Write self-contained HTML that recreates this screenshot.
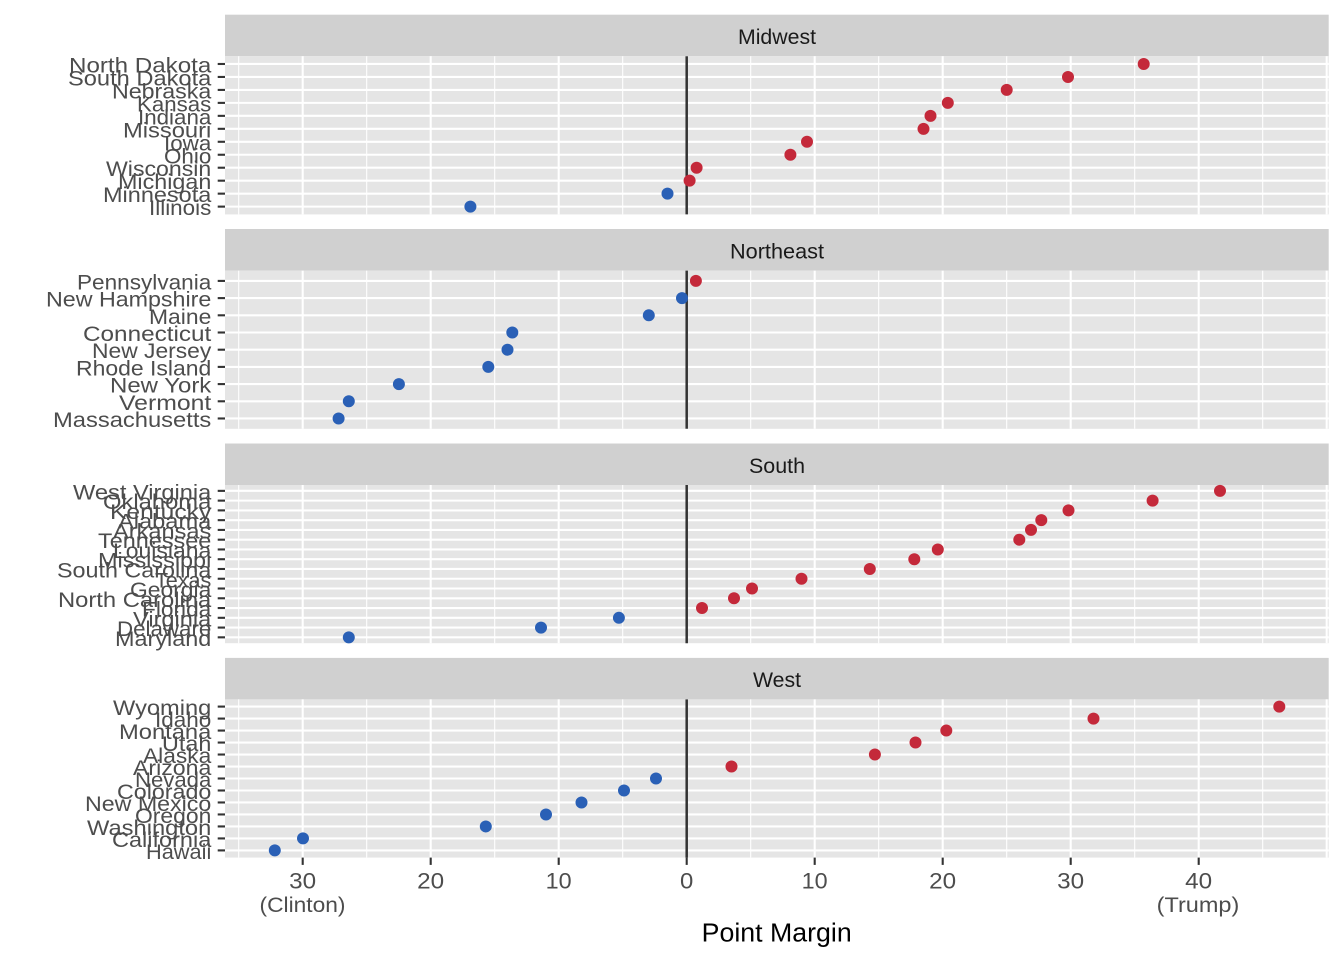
<!DOCTYPE html>
<html>
<head>
<meta charset="utf-8">
<style>
html,body{margin:0;padding:0;background:#fff;}
svg{display:block;}
text{font-family:"Liberation Sans","Noto Sans CJK JP",sans-serif;}
.yl{font-size:21px;fill:#4d4d4d;text-anchor:end;}
.xl{font-size:22px;fill:#4d4d4d;text-anchor:middle;}
.xl2{font-size:21px;fill:#4d4d4d;text-anchor:middle;}
.st{font-size:21px;fill:#1a1a1a;text-anchor:middle;}
.hg{stroke:#fff;stroke-width:2.1;}
.mj{stroke:#fff;stroke-width:2.1;}
.mn{stroke:#fff;stroke-width:1.07;}
.tk{stroke:#333;stroke-width:2.1;}
.r{fill:#c4293a;}
.b{fill:#2a60b6;}
</style>
</head>
<body>
<svg width="1344" height="960" viewBox="0 0 1344 960" xmlns="http://www.w3.org/2000/svg">
<rect x="0" y="0" width="1344" height="960" fill="#fff"/>

<!-- Reusable vertical grid definition per panel -->
<defs>
<g id="vgrid">
  <line class="mn" x1="238.7" x2="238.7" y1="0" y2="158.2"/>
  <line class="mn" x1="366.7" x2="366.7" y1="0" y2="158.2"/>
  <line class="mn" x1="494.7" x2="494.7" y1="0" y2="158.2"/>
  <line class="mn" x1="622.7" x2="622.7" y1="0" y2="158.2"/>
  <line class="mn" x1="750.7" x2="750.7" y1="0" y2="158.2"/>
  <line class="mn" x1="878.7" x2="878.7" y1="0" y2="158.2"/>
  <line class="mn" x1="1006.7" x2="1006.7" y1="0" y2="158.2"/>
  <line class="mn" x1="1134.7" x2="1134.7" y1="0" y2="158.2"/>
  <line class="mn" x1="1262.7" x2="1262.7" y1="0" y2="158.2"/>
  <line class="mj" x1="302.7" x2="302.7" y1="0" y2="158.2"/>
  <line class="mj" x1="430.7" x2="430.7" y1="0" y2="158.2"/>
  <line class="mj" x1="558.7" x2="558.7" y1="0" y2="158.2"/>
  <line class="mj" x1="686.7" x2="686.7" y1="0" y2="158.2"/>
  <line class="mj" x1="814.7" x2="814.7" y1="0" y2="158.2"/>
  <line class="mj" x1="942.7" x2="942.7" y1="0" y2="158.2"/>
  <line class="mj" x1="1070.7" x2="1070.7" y1="0" y2="158.2"/>
  <line class="mj" x1="1198.7" x2="1198.7" y1="0" y2="158.2"/>
  <line class="mj" x1="1326.7" x2="1326.7" y1="0" y2="158.2"/>
</g>
</defs>

<!-- ===== Panel 1: Midwest ===== -->
<rect x="225" y="14.7" width="1103.7" height="41.5" fill="#d0d0d0"/>
<text class="st" x="777" y="44" textLength="78" lengthAdjust="spacingAndGlyphs">Midwest</text>
<rect x="225" y="56.2" width="1103.7" height="158.2" fill="#e5e5e5"/>
<g>
<line class="hg" x1="225" x2="1328.7" y1="63.98" y2="63.98"/>
<line class="hg" x1="225" x2="1328.7" y1="76.95" y2="76.95"/>
<line class="hg" x1="225" x2="1328.7" y1="89.92" y2="89.92"/>
<line class="hg" x1="225" x2="1328.7" y1="102.88" y2="102.88"/>
<line class="hg" x1="225" x2="1328.7" y1="115.85" y2="115.85"/>
<line class="hg" x1="225" x2="1328.7" y1="128.82" y2="128.82"/>
<line class="hg" x1="225" x2="1328.7" y1="141.78" y2="141.78"/>
<line class="hg" x1="225" x2="1328.7" y1="154.75" y2="154.75"/>
<line class="hg" x1="225" x2="1328.7" y1="167.72" y2="167.72"/>
<line class="hg" x1="225" x2="1328.7" y1="180.68" y2="180.68"/>
<line class="hg" x1="225" x2="1328.7" y1="193.65" y2="193.65"/>
<line class="hg" x1="225" x2="1328.7" y1="206.62" y2="206.62"/>
</g>
<use href="#vgrid" transform="translate(0,56.2)"/>
<line x1="686.7" x2="686.7" y1="56.2" y2="214.4" stroke="#333" stroke-width="2.5"/>
<circle class="r" cx="1143.7" cy="63.98" r="6"/>
<circle class="r" cx="1068" cy="76.95" r="6"/>
<circle class="r" cx="1006.7" cy="89.92" r="6"/>
<circle class="r" cx="947.8" cy="102.88" r="6"/>
<circle class="r" cx="930.5" cy="115.85" r="6"/>
<circle class="r" cx="923.5" cy="128.82" r="6"/>
<circle class="r" cx="807" cy="141.78" r="6"/>
<circle class="r" cx="790.4" cy="154.75" r="6"/>
<circle class="r" cx="696.6" cy="167.72" r="6"/>
<circle class="r" cx="689.6" cy="180.68" r="6"/>
<circle class="b" cx="667.5" cy="193.65" r="6"/>
<circle class="b" cx="470.4" cy="206.62" r="6"/>
<g>
<line class="tk" x1="217.7" x2="225" y1="63.98" y2="63.98"/>
<line class="tk" x1="217.7" x2="225" y1="76.95" y2="76.95"/>
<line class="tk" x1="217.7" x2="225" y1="89.92" y2="89.92"/>
<line class="tk" x1="217.7" x2="225" y1="102.88" y2="102.88"/>
<line class="tk" x1="217.7" x2="225" y1="115.85" y2="115.85"/>
<line class="tk" x1="217.7" x2="225" y1="128.82" y2="128.82"/>
<line class="tk" x1="217.7" x2="225" y1="141.78" y2="141.78"/>
<line class="tk" x1="217.7" x2="225" y1="154.75" y2="154.75"/>
<line class="tk" x1="217.7" x2="225" y1="167.72" y2="167.72"/>
<line class="tk" x1="217.7" x2="225" y1="180.68" y2="180.68"/>
<line class="tk" x1="217.7" x2="225" y1="193.65" y2="193.65"/>
<line class="tk" x1="217.7" x2="225" y1="206.62" y2="206.62"/>
</g>
<text class="yl" x="211.3" y="72.5" textLength="142.3" lengthAdjust="spacingAndGlyphs">North Dakota</text>
<text class="yl" x="211.3" y="85.45" textLength="143.3" lengthAdjust="spacingAndGlyphs">South Dakota</text>
<text class="yl" x="211.3" y="98.4" textLength="99.3" lengthAdjust="spacingAndGlyphs">Nebraska</text>
<text class="yl" x="211.3" y="111.4" textLength="74.3" lengthAdjust="spacingAndGlyphs">Kansas</text>
<text class="yl" x="211.3" y="124.35" textLength="73.3" lengthAdjust="spacingAndGlyphs">Indiana</text>
<text class="yl" x="211.3" y="137.3" textLength="88.3" lengthAdjust="spacingAndGlyphs">Missouri</text>
<text class="yl" x="211.3" y="150.3" textLength="47.3" lengthAdjust="spacingAndGlyphs">Iowa</text>
<text class="yl" x="211.3" y="163.25" textLength="47.3" lengthAdjust="spacingAndGlyphs">Ohio</text>
<text class="yl" x="211.3" y="176.2" textLength="105.3" lengthAdjust="spacingAndGlyphs">Wisconsin</text>
<text class="yl" x="211.3" y="189.2" textLength="93.3" lengthAdjust="spacingAndGlyphs">Michigan</text>
<text class="yl" x="211.3" y="202.15" textLength="108.3" lengthAdjust="spacingAndGlyphs">Minnesota</text>
<text class="yl" x="211.3" y="215.1" textLength="62.3" lengthAdjust="spacingAndGlyphs">Illinois</text>

<!-- ===== Panel 2: Northeast ===== -->
<rect x="225" y="229" width="1103.7" height="41.6" fill="#d0d0d0"/>
<text class="st" x="777" y="258.3" textLength="94" lengthAdjust="spacingAndGlyphs">Northeast</text>
<rect x="225" y="270.6" width="1103.7" height="158.2" fill="#e5e5e5"/>
<g>
<line class="hg" x1="225" x2="1328.7" y1="280.92" y2="280.92"/>
<line class="hg" x1="225" x2="1328.7" y1="298.11" y2="298.11"/>
<line class="hg" x1="225" x2="1328.7" y1="315.31" y2="315.31"/>
<line class="hg" x1="225" x2="1328.7" y1="332.5" y2="332.5"/>
<line class="hg" x1="225" x2="1328.7" y1="349.7" y2="349.7"/>
<line class="hg" x1="225" x2="1328.7" y1="366.9" y2="366.9"/>
<line class="hg" x1="225" x2="1328.7" y1="384.09" y2="384.09"/>
<line class="hg" x1="225" x2="1328.7" y1="401.29" y2="401.29"/>
<line class="hg" x1="225" x2="1328.7" y1="418.48" y2="418.48"/>
</g>
<use href="#vgrid" transform="translate(0,270.6)"/>
<line x1="686.7" x2="686.7" y1="270.6" y2="428.8" stroke="#333" stroke-width="2.5"/>
<circle class="r" cx="695.9" cy="280.92" r="6"/>
<circle class="b" cx="682" cy="298.11" r="6"/>
<circle class="b" cx="648.8" cy="315.31" r="6"/>
<circle class="b" cx="512.3" cy="332.5" r="6"/>
<circle class="b" cx="507.5" cy="349.7" r="6"/>
<circle class="b" cx="488.3" cy="366.9" r="6"/>
<circle class="b" cx="398.9" cy="384.09" r="6"/>
<circle class="b" cx="348.8" cy="401.29" r="6"/>
<circle class="b" cx="338.6" cy="418.48" r="6"/>
<g>
<line class="tk" x1="217.7" x2="225" y1="280.92" y2="280.92"/>
<line class="tk" x1="217.7" x2="225" y1="298.11" y2="298.11"/>
<line class="tk" x1="217.7" x2="225" y1="315.31" y2="315.31"/>
<line class="tk" x1="217.7" x2="225" y1="332.5" y2="332.5"/>
<line class="tk" x1="217.7" x2="225" y1="349.7" y2="349.7"/>
<line class="tk" x1="217.7" x2="225" y1="366.9" y2="366.9"/>
<line class="tk" x1="217.7" x2="225" y1="384.09" y2="384.09"/>
<line class="tk" x1="217.7" x2="225" y1="401.29" y2="401.29"/>
<line class="tk" x1="217.7" x2="225" y1="418.48" y2="418.48"/>
</g>
<text class="yl" x="211.3" y="289.4" textLength="134.3" lengthAdjust="spacingAndGlyphs">Pennsylvania</text>
<text class="yl" x="211.3" y="306.6" textLength="165.3" lengthAdjust="spacingAndGlyphs">New Hampshire</text>
<text class="yl" x="211.3" y="323.8" textLength="62.3" lengthAdjust="spacingAndGlyphs">Maine</text>
<text class="yl" x="211.3" y="341" textLength="128.3" lengthAdjust="spacingAndGlyphs">Connecticut</text>
<text class="yl" x="211.3" y="358.2" textLength="119.3" lengthAdjust="spacingAndGlyphs">New Jersey</text>
<text class="yl" x="211.3" y="375.4" textLength="135.3" lengthAdjust="spacingAndGlyphs">Rhode Island</text>
<text class="yl" x="211.3" y="392.6" textLength="101.3" lengthAdjust="spacingAndGlyphs">New York</text>
<text class="yl" x="211.3" y="409.8" textLength="92.3" lengthAdjust="spacingAndGlyphs">Vermont</text>
<text class="yl" x="211.3" y="427" textLength="158.3" lengthAdjust="spacingAndGlyphs">Massachusetts</text>

<!-- ===== Panel 3: South ===== -->
<rect x="225" y="443.5" width="1103.7" height="41.5" fill="#d0d0d0"/>
<text class="st" x="777" y="472.8" textLength="56" lengthAdjust="spacingAndGlyphs">South</text>
<rect x="225" y="485" width="1103.7" height="158.2" fill="#e5e5e5"/>
<g>
<line class="hg" x1="225" x2="1328.7" y1="490.86" y2="490.86"/>
<line class="hg" x1="225" x2="1328.7" y1="500.63" y2="500.63"/>
<line class="hg" x1="225" x2="1328.7" y1="510.39" y2="510.39"/>
<line class="hg" x1="225" x2="1328.7" y1="520.16" y2="520.16"/>
<line class="hg" x1="225" x2="1328.7" y1="529.92" y2="529.92"/>
<line class="hg" x1="225" x2="1328.7" y1="539.69" y2="539.69"/>
<line class="hg" x1="225" x2="1328.7" y1="549.45" y2="549.45"/>
<line class="hg" x1="225" x2="1328.7" y1="559.22" y2="559.22"/>
<line class="hg" x1="225" x2="1328.7" y1="568.98" y2="568.98"/>
<line class="hg" x1="225" x2="1328.7" y1="578.75" y2="578.75"/>
<line class="hg" x1="225" x2="1328.7" y1="588.51" y2="588.51"/>
<line class="hg" x1="225" x2="1328.7" y1="598.28" y2="598.28"/>
<line class="hg" x1="225" x2="1328.7" y1="608.04" y2="608.04"/>
<line class="hg" x1="225" x2="1328.7" y1="617.81" y2="617.81"/>
<line class="hg" x1="225" x2="1328.7" y1="627.57" y2="627.57"/>
<line class="hg" x1="225" x2="1328.7" y1="637.34" y2="637.34"/>
</g>
<use href="#vgrid" transform="translate(0,485)"/>
<line x1="686.7" x2="686.7" y1="485" y2="643.2" stroke="#333" stroke-width="2.5"/>
<circle class="r" cx="1220" cy="490.86" r="6"/>
<circle class="r" cx="1152.6" cy="500.63" r="6"/>
<circle class="r" cx="1068.5" cy="510.39" r="6"/>
<circle class="r" cx="1041.3" cy="520.16" r="6"/>
<circle class="r" cx="1031" cy="529.92" r="6"/>
<circle class="r" cx="1019.3" cy="539.69" r="6"/>
<circle class="r" cx="937.8" cy="549.45" r="6"/>
<circle class="r" cx="914.3" cy="559.22" r="6"/>
<circle class="r" cx="869.8" cy="568.98" r="6"/>
<circle class="r" cx="801.5" cy="578.75" r="6"/>
<circle class="r" cx="752" cy="588.51" r="6"/>
<circle class="r" cx="734" cy="598.28" r="6"/>
<circle class="r" cx="702" cy="608.04" r="6"/>
<circle class="b" cx="618.9" cy="617.81" r="6"/>
<circle class="b" cx="541" cy="627.57" r="6"/>
<circle class="b" cx="348.8" cy="637.34" r="6"/>
<g>
<line class="tk" x1="217.7" x2="225" y1="490.86" y2="490.86"/>
<line class="tk" x1="217.7" x2="225" y1="500.63" y2="500.63"/>
<line class="tk" x1="217.7" x2="225" y1="510.39" y2="510.39"/>
<line class="tk" x1="217.7" x2="225" y1="520.16" y2="520.16"/>
<line class="tk" x1="217.7" x2="225" y1="529.92" y2="529.92"/>
<line class="tk" x1="217.7" x2="225" y1="539.69" y2="539.69"/>
<line class="tk" x1="217.7" x2="225" y1="549.45" y2="549.45"/>
<line class="tk" x1="217.7" x2="225" y1="559.22" y2="559.22"/>
<line class="tk" x1="217.7" x2="225" y1="568.98" y2="568.98"/>
<line class="tk" x1="217.7" x2="225" y1="578.75" y2="578.75"/>
<line class="tk" x1="217.7" x2="225" y1="588.51" y2="588.51"/>
<line class="tk" x1="217.7" x2="225" y1="598.28" y2="598.28"/>
<line class="tk" x1="217.7" x2="225" y1="608.04" y2="608.04"/>
<line class="tk" x1="217.7" x2="225" y1="617.81" y2="617.81"/>
<line class="tk" x1="217.7" x2="225" y1="627.57" y2="627.57"/>
<line class="tk" x1="217.7" x2="225" y1="637.34" y2="637.34"/>
</g>
<text class="yl" x="211.3" y="499.4" textLength="138.3" lengthAdjust="spacingAndGlyphs">West Virginia</text>
<text class="yl" x="211.3" y="509.1" textLength="108.3" lengthAdjust="spacingAndGlyphs">Oklahoma</text>
<text class="yl" x="211.3" y="518.9" textLength="101.3" lengthAdjust="spacingAndGlyphs">Kentucky</text>
<text class="yl" x="211.3" y="528.7" textLength="93.3" lengthAdjust="spacingAndGlyphs">Alabama</text>
<text class="yl" x="211.3" y="538.4" textLength="98.3" lengthAdjust="spacingAndGlyphs">Arkansas</text>
<text class="yl" x="211.3" y="548.2" textLength="113.3" lengthAdjust="spacingAndGlyphs">Tennessee</text>
<text class="yl" x="211.3" y="558" textLength="98.3" lengthAdjust="spacingAndGlyphs">Louisiana</text>
<text class="yl" x="211.3" y="567.7" textLength="113.3" lengthAdjust="spacingAndGlyphs">Mississippi</text>
<text class="yl" x="211.3" y="577.5" textLength="154.3" lengthAdjust="spacingAndGlyphs">South Carolina</text>
<text class="yl" x="211.3" y="587.3" textLength="56.3" lengthAdjust="spacingAndGlyphs">Texas</text>
<text class="yl" x="211.3" y="597" textLength="81.3" lengthAdjust="spacingAndGlyphs">Georgia</text>
<text class="yl" x="211.3" y="606.8" textLength="153.3" lengthAdjust="spacingAndGlyphs">North Carolina</text>
<text class="yl" x="211.3" y="616.5" textLength="69.3" lengthAdjust="spacingAndGlyphs">Florida</text>
<text class="yl" x="211.3" y="626.3" textLength="78.3" lengthAdjust="spacingAndGlyphs">Virginia</text>
<text class="yl" x="211.3" y="636.1" textLength="94.3" lengthAdjust="spacingAndGlyphs">Delaware</text>
<text class="yl" x="211.3" y="645.8" textLength="96.3" lengthAdjust="spacingAndGlyphs">Maryland</text>

<!-- ===== Panel 4: West ===== -->
<rect x="225" y="657.9" width="1103.7" height="41.5" fill="#d0d0d0"/>
<text class="st" x="777" y="687.2" textLength="48" lengthAdjust="spacingAndGlyphs">West</text>
<rect x="225" y="699.4" width="1103.7" height="158.2" fill="#e5e5e5"/>
<g>
<line class="hg" x1="225" x2="1328.7" y1="706.59" y2="706.59"/>
<line class="hg" x1="225" x2="1328.7" y1="718.58" y2="718.58"/>
<line class="hg" x1="225" x2="1328.7" y1="730.56" y2="730.56"/>
<line class="hg" x1="225" x2="1328.7" y1="742.55" y2="742.55"/>
<line class="hg" x1="225" x2="1328.7" y1="754.53" y2="754.53"/>
<line class="hg" x1="225" x2="1328.7" y1="766.52" y2="766.52"/>
<line class="hg" x1="225" x2="1328.7" y1="778.5" y2="778.5"/>
<line class="hg" x1="225" x2="1328.7" y1="790.49" y2="790.49"/>
<line class="hg" x1="225" x2="1328.7" y1="802.47" y2="802.47"/>
<line class="hg" x1="225" x2="1328.7" y1="814.46" y2="814.46"/>
<line class="hg" x1="225" x2="1328.7" y1="826.44" y2="826.44"/>
<line class="hg" x1="225" x2="1328.7" y1="838.43" y2="838.43"/>
<line class="hg" x1="225" x2="1328.7" y1="850.41" y2="850.41"/>
</g>
<use href="#vgrid" transform="translate(0,699.4)"/>
<line x1="686.7" x2="686.7" y1="699.4" y2="857.6" stroke="#333" stroke-width="2.5"/>
<circle class="r" cx="1279.3" cy="706.59" r="6"/>
<circle class="r" cx="1093.5" cy="718.58" r="6"/>
<circle class="r" cx="946.3" cy="730.56" r="6"/>
<circle class="r" cx="915.5" cy="742.55" r="6"/>
<circle class="r" cx="874.9" cy="754.53" r="6"/>
<circle class="r" cx="731.5" cy="766.52" r="6"/>
<circle class="b" cx="656" cy="778.5" r="6"/>
<circle class="b" cx="624" cy="790.49" r="6"/>
<circle class="b" cx="581.5" cy="802.47" r="6"/>
<circle class="b" cx="546" cy="814.46" r="6"/>
<circle class="b" cx="485.8" cy="826.44" r="6"/>
<circle class="b" cx="303" cy="838.43" r="6"/>
<circle class="b" cx="274.8" cy="850.41" r="6"/>
<g>
<line class="tk" x1="217.7" x2="225" y1="706.59" y2="706.59"/>
<line class="tk" x1="217.7" x2="225" y1="718.58" y2="718.58"/>
<line class="tk" x1="217.7" x2="225" y1="730.56" y2="730.56"/>
<line class="tk" x1="217.7" x2="225" y1="742.55" y2="742.55"/>
<line class="tk" x1="217.7" x2="225" y1="754.53" y2="754.53"/>
<line class="tk" x1="217.7" x2="225" y1="766.52" y2="766.52"/>
<line class="tk" x1="217.7" x2="225" y1="778.5" y2="778.5"/>
<line class="tk" x1="217.7" x2="225" y1="790.49" y2="790.49"/>
<line class="tk" x1="217.7" x2="225" y1="802.47" y2="802.47"/>
<line class="tk" x1="217.7" x2="225" y1="814.46" y2="814.46"/>
<line class="tk" x1="217.7" x2="225" y1="826.44" y2="826.44"/>
<line class="tk" x1="217.7" x2="225" y1="838.43" y2="838.43"/>
<line class="tk" x1="217.7" x2="225" y1="850.41" y2="850.41"/>
</g>
<text class="yl" x="211.3" y="715.1" textLength="98.3" lengthAdjust="spacingAndGlyphs">Wyoming</text>
<text class="yl" x="211.3" y="727.1" textLength="56.3" lengthAdjust="spacingAndGlyphs">Idaho</text>
<text class="yl" x="211.3" y="739.1" textLength="92.3" lengthAdjust="spacingAndGlyphs">Montana</text>
<text class="yl" x="211.3" y="751" textLength="49.3" lengthAdjust="spacingAndGlyphs">Utah</text>
<text class="yl" x="211.3" y="763" textLength="68.3" lengthAdjust="spacingAndGlyphs">Alaska</text>
<text class="yl" x="211.3" y="775" textLength="78.3" lengthAdjust="spacingAndGlyphs">Arizona</text>
<text class="yl" x="211.3" y="787" textLength="76.3" lengthAdjust="spacingAndGlyphs">Nevada</text>
<text class="yl" x="211.3" y="799" textLength="94.3" lengthAdjust="spacingAndGlyphs">Colorado</text>
<text class="yl" x="211.3" y="811" textLength="126.3" lengthAdjust="spacingAndGlyphs">New Mexico</text>
<text class="yl" x="211.3" y="823" textLength="76.3" lengthAdjust="spacingAndGlyphs">Oregon</text>
<text class="yl" x="211.3" y="834.9" textLength="124.3" lengthAdjust="spacingAndGlyphs">Washington</text>
<text class="yl" x="211.3" y="846.9" textLength="99.3" lengthAdjust="spacingAndGlyphs">California</text>
<text class="yl" x="211.3" y="858.9" textLength="65.3" lengthAdjust="spacingAndGlyphs">Hawaii</text>

<!-- ===== X axis ===== -->
<g>
<line class="tk" x1="302.7" x2="302.7" y1="857.6" y2="864.9"/>
<line class="tk" x1="430.7" x2="430.7" y1="857.6" y2="864.9"/>
<line class="tk" x1="558.7" x2="558.7" y1="857.6" y2="864.9"/>
<line class="tk" x1="686.7" x2="686.7" y1="857.6" y2="864.9"/>
<line class="tk" x1="814.7" x2="814.7" y1="857.6" y2="864.9"/>
<line class="tk" x1="942.7" x2="942.7" y1="857.6" y2="864.9"/>
<line class="tk" x1="1070.7" x2="1070.7" y1="857.6" y2="864.9"/>
<line class="tk" x1="1198.7" x2="1198.7" y1="857.6" y2="864.9"/>
</g>
<text class="xl" x="302.7" y="888.5" textLength="27" lengthAdjust="spacingAndGlyphs">30</text>
<text class="xl2" x="302.5" y="912" textLength="86" lengthAdjust="spacingAndGlyphs">(Clinton)</text>
<text class="xl" x="430.7" y="888.5" textLength="27" lengthAdjust="spacingAndGlyphs">20</text>
<text class="xl" x="558.7" y="888.5" textLength="26" lengthAdjust="spacingAndGlyphs">10</text>
<text class="xl" x="686.7" y="888.5" textLength="13.3" lengthAdjust="spacingAndGlyphs">0</text>
<text class="xl" x="814.7" y="888.5" textLength="26" lengthAdjust="spacingAndGlyphs">10</text>
<text class="xl" x="942.7" y="888.5" textLength="27" lengthAdjust="spacingAndGlyphs">20</text>
<text class="xl" x="1070.7" y="888.5" textLength="27" lengthAdjust="spacingAndGlyphs">30</text>
<text class="xl" x="1198.7" y="888.5" textLength="27" lengthAdjust="spacingAndGlyphs">40</text>
<text class="xl2" x="1198" y="912" textLength="82.6" lengthAdjust="spacingAndGlyphs">(Trump)</text>

<text x="776.7" y="941.7" font-size="25.5" fill="#000" text-anchor="middle" textLength="150" lengthAdjust="spacingAndGlyphs">Point Margin</text>
</svg>
</body>
</html>
